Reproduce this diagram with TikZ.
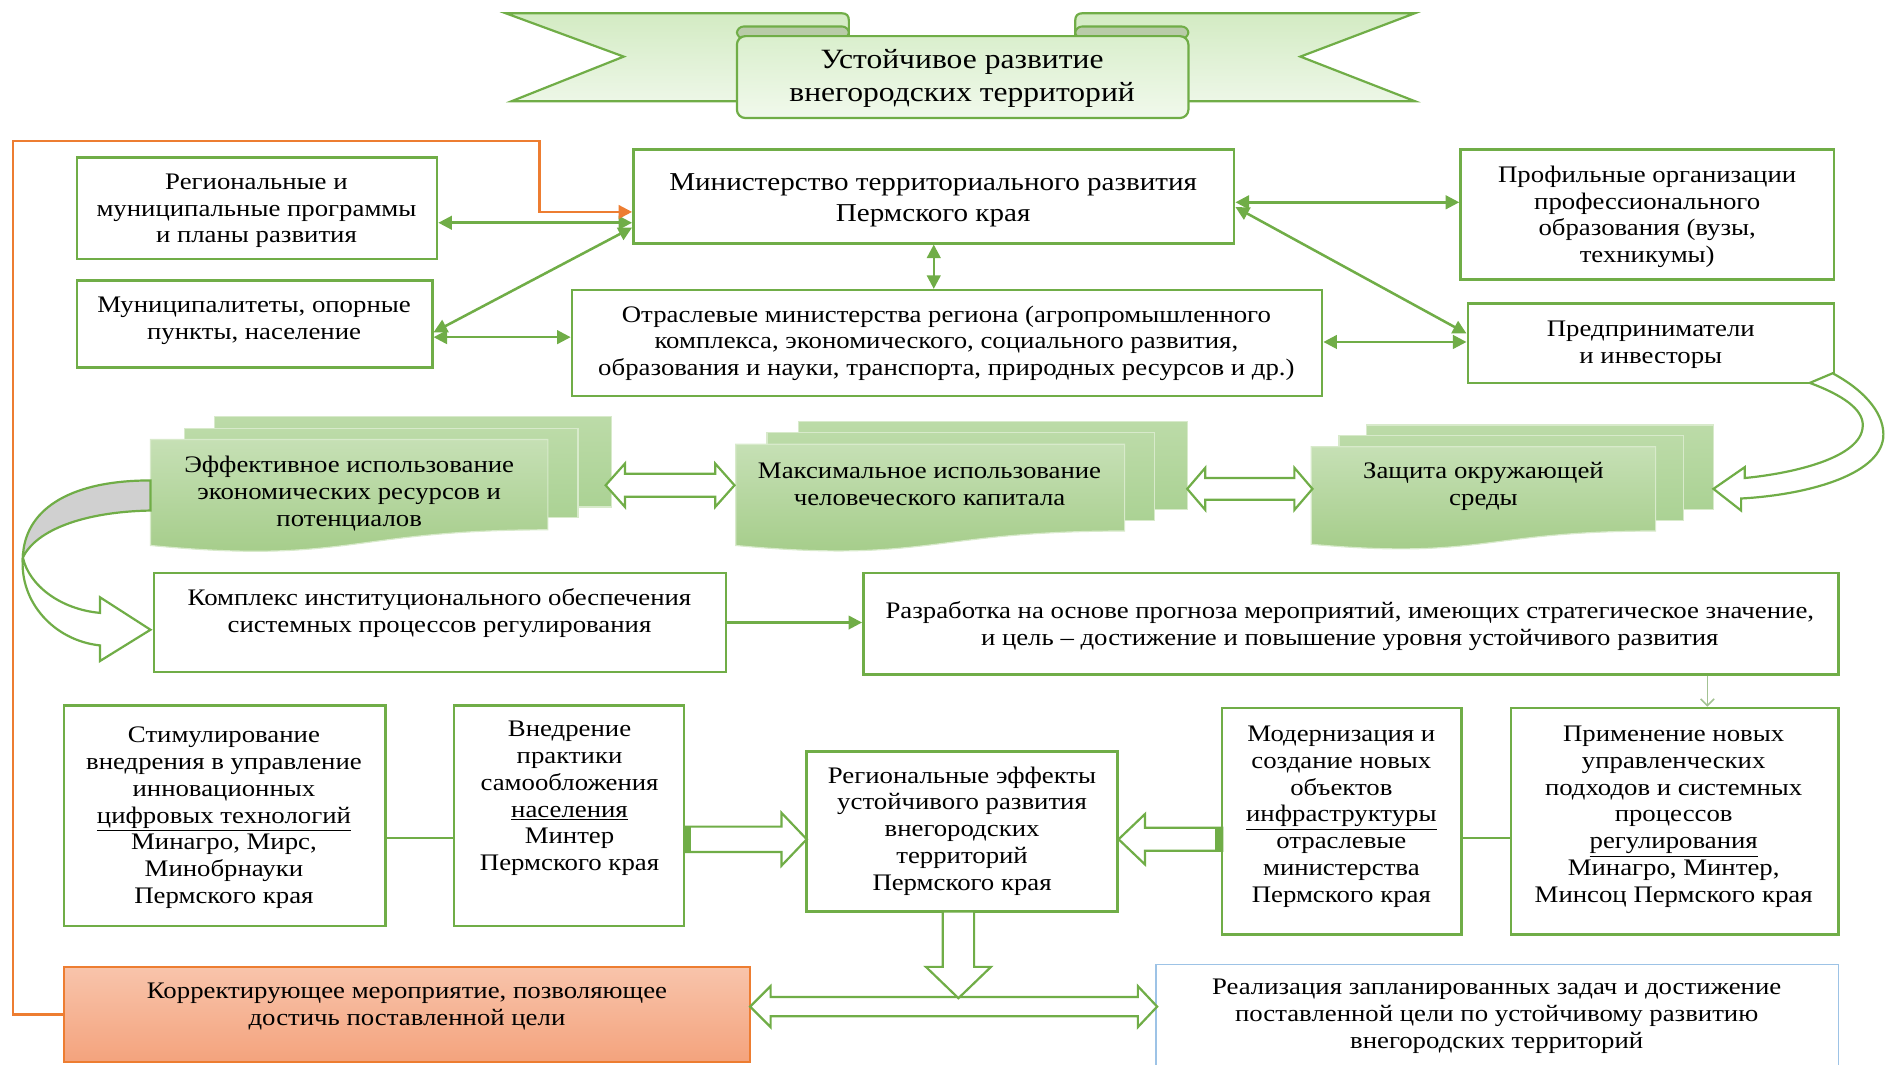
\documentclass[tikz,border=0pt]{standalone}
\usepackage{fontspec}
\setmainfont{Liberation Serif}[FakeStretch=1.13]
\usetikzlibrary{arrows.meta,fit,calc}
\definecolor{gr}{HTML}{70AD47}
\definecolor{orn}{HTML}{ED7D31}
\definecolor{lbl}{HTML}{9DC3E6}
\definecolor{thn}{HTML}{A3C293}
\definecolor{bnT}{HTML}{D3EBC3}
\definecolor{bnB}{HTML}{EDF7E7}
\definecolor{ctT}{HTML}{DAEFCD}
\definecolor{ctB}{HTML}{F1F9EC}
\definecolor{fld}{HTML}{B9CBA9}
\definecolor{dfT}{HTML}{C6E0B5}
\definecolor{dfB}{HTML}{A2CB86}
\definecolor{dbT}{HTML}{BCDBA8}
\definecolor{dbB}{HTML}{ABD294}
\definecolor{dedge}{HTML}{D8EACB}
\definecolor{krT}{HTML}{F8C4AB}
\definecolor{krB}{HTML}{F4A37D}
\definecolor{gry}{HTML}{D0D0D0}
\begin{document}
\begin{tikzpicture}[x=0.025cm,y=-0.025cm,
  gbox/.style={draw=gr,line width=1.5pt,inner sep=0pt,fill=white},
  txt/.style={align=center,inner sep=0pt,yshift=-1.5pt,font=\fontsize{14}{15.8}\selectfont},
  garr/.style={draw=gr,line width=1.5pt,{Triangle[length=8pt,width=8pt]}-{Triangle[length=8pt,width=8pt]}},
  sarr/.style={draw=gr,line width=1.5pt,-{Triangle[length=8pt,width=8pt]}},
  hol/.style={draw=gr,line width=1.3pt,fill=white,line join=miter},
  docb/.style={top color=dbT,bottom color=dbB,draw=dedge,line width=0.7pt},
  docf/.style={top color=dfT,bottom color=dfB,draw=dedge,line width=0.7pt},
  bann/.style={draw=gr,line width=1.3pt,top color=bnT,bottom color=bnB}]
\useasboundingbox (0,0) rectangle (1568,884);

% ---------- banner ----------
\path[bann] (420,11) -- (699,11) .. controls (703,11) and (705,13) .. (705,17) -- (705,84) -- (425,84) -- (518,47) -- cycle;
\path[bann] (1175,11) -- (899,11) .. controls (895,11) and (893,13) .. (893,17) -- (893,84) -- (1175,84) -- (1080,47) -- cycle;
\path[draw=gr,line width=1.2pt,fill=fld,rounded corners=4pt] (612,22) rectangle (705,32);
\path[draw=gr,line width=1.2pt,fill=fld,rounded corners=4pt] (893,22) rectangle (987,32);
\path[draw=gr,line width=1.3pt,top color=ctT,bottom color=ctB,rounded corners=5pt] (612,30) rectangle (987,98);
\node[txt,yshift=-0.7pt,font=\fontsize{16.5}{19.5}\selectfont] (ttl) at (799,62) {Устойчивое развитие\\внегородских территорий};

% ---------- boxes ----------
\node[gbox,fit={(64,131) (363,215)}] (reg) {};
\node[gbox,fit={(64,233) (359,305)}] (mun) {};
\node[gbox,fit={(526,124) (1025,202)}] (min) {};
\node[gbox,fit={(475,241) (1098,329)}] (otr) {};
\node[gbox,fit={(1213,124) (1523,232)}] (prof) {};
\node[gbox,fit={(1219,252) (1523,318)}] (pred) {};
\node[gbox,fit={(128,476) (603,558)}] (kom) {};
\node[gbox,fit={(717,476) (1527,560)}] (raz) {};
\node[gbox,fit={(53,586) (320,769)}] (stim) {};
\node[gbox,fit={(377,586) (568,769)}] (vned) {};
\node[gbox,fit={(670,624) (928,757)}] (reff) {};
\node[gbox,fit={(1015,588) (1214,776)}] (modr) {};
\node[gbox,fit={(1255,588) (1527,776)}] (prim) {};
\node[draw=orn,line width=1.2pt,inner sep=0pt,top color=krT,bottom color=krB,fit={(53,803) (623,882)}] (korr) {};
\node[draw=lbl,line width=0.8pt,inner sep=0pt,fit={(960,801) (1527,900)}] (real) {};

% ---------- texts ----------
\node[txt] (reg-t) at (213,173) {Региональные и\\муниципальные программы\\и планы развития};
\node[txt] (mun-t) at (211,264) {Муниципалитеты, опорные\\пункты, население};
\node[txt,font=\fontsize{15.2}{18.5}\selectfont] (min-t) at (775,164) {Министерство территориального развития\\Пермского края};
\node[txt] (otr-t) at (786,283) {Отраслевые министерства региона (агропромышленного\\комплекса, экономического, социального развития,\\образования и науки, транспорта, природных ресурсов и др.)};
\node[txt] (prof-t) at (1368,178) {Профильные организации\\профессионального\\образования (вузы,\\техникумы)};
\node[txt] (pred-t) at (1371,284) {Предприниматели\\и инвесторы};
\node[txt] (kom-t) at (365,507) {Комплекс институционального обеспечения\\системных процессов регулирования};
\node[txt] (raz-t) at (1121,518) {Разработка на основе прогноза мероприятий, имеющих стратегическое значение,\\и цель – достижение и повышение уровня устойчивого развития};
\node[txt] (stim-t) at (186,677) {Стимулирование\\внедрения в управление\\инновационных\\\underline{цифровых технологий}\\Минагро, Мирс,\\Минобрнауки\\Пермского края};
\node[txt] (vned-t) at (473,661) {Внедрение\\практики\\самообложения\\\underline{населения}\\Минтер\\Пермского края};
\node[txt] (reff-t) at (799,688) {Региональные эффекты\\устойчивого развития\\внегородских\\территорий\\Пермского края};
\node[txt] (modr-t) at (1114,676) {Модернизация и\\создание новых\\объектов\\\underline{инфраструктуры}\\отраслевые\\министерства\\Пермского края};
\node[txt] (prim-t) at (1390,676) {Применение новых\\управленческих\\подходов и системных\\процессов\\\underline{регулирования}\\Минагро, Минтер,\\Минсоц Пермского края};
\node[txt] (korr-t) at (338,834) {Корректирующее мероприятие, позволяющее\\достичь поставленной цели};
\node[txt] (real-t) at (1243,842) {Реализация запланированных задач и достижение\\поставленной цели по устойчивому развитию\\внегородских территорий};

% ---------- stacked documents ----------
\path[docb] (178,346) rectangle (508,421);
\path[docb] (153,356) rectangle (480,430);
\path[docf] (125,365) -- (455,365) -- (455,440) .. controls (290,440) and (290,469) .. (125,453) -- cycle;
\node[txt] (eff-t) at (290,408) {Эффективное использование\\экономических ресурсов и\\потенциалов};

\path[docb] (663,350) rectangle (986,423);
\path[docb] (637,359) rectangle (959,432);
\path[docf] (611,369) -- (934,369) -- (934,441) .. controls (772,441) and (772,468) .. (611,453) -- cycle;
\node[txt] (max-t) at (772,400) {Максимальное использование\\человеческого капитала};

\path[docb] (1135,353) rectangle (1423,423);
\path[docb] (1112,362) rectangle (1398,432);
\path[docf] (1089,371) -- (1375,371) -- (1375,441) .. controls (1232,441) and (1232,465) .. (1089,452) -- cycle;
\node[txt] (zas-t) at (1232,402) {Защита окружающей\\среды};

% ---------- hollow double arrows between documents ----------
\path[hol] (503,403) -- (519,385) -- (519,393.5) -- (594,393.5) -- (594,385) -- (610,403) -- (594,421) -- (594,412.5) -- (519,412.5) -- (519,421) -- cycle;
\path[hol] (986,406) -- (1001,388.5) -- (1001,397) -- (1075,397) -- (1075,388.5) -- (1090,406) -- (1075,423.5) -- (1075,415) -- (1001,415) -- (1001,423.5) -- cycle;

% ---------- curved arrow right ----------
\path[hol] (1522,310) .. controls (1550,325) and (1566,345) .. (1564,364) .. controls (1560,395) and (1500,411) .. (1446,414) -- (1446,424) -- (1423,406) -- (1449,388) -- (1449,397) .. controls (1490,393) and (1546,380) .. (1547,354) .. controls (1548,340) and (1530,328) .. (1503,318) -- cycle;

% ---------- curved arrow left ----------
\path[draw=gr,line width=1.3pt,fill=gry] (125,399) .. controls (55,399) and (20,425) .. (19,463) .. controls (30,440) and (70,425) .. (125,424) -- cycle;
\path[hol] (19,463) .. controls (24,486) and (50,506) .. (83,509) -- (83,496) -- (125,523) -- (83,549) -- (83,536) .. controls (45,532) and (16,500) .. (19,463) -- cycle;

% ---------- green connectors ----------
\coordinate (h1) at (0,185);
\coordinate (h2) at (0,276);
\coordinate (h3) at (0,189);
\coordinate (h4) at (0,280);
\coordinate (h5) at (0,168);
\coordinate (h6) at (0,172);
\coordinate (h7) at (0,277);
\coordinate (h8) at (0,284);
\draw[garr] (h1 -| reg.east) -- (h1 -| min.west);
\draw[garr] (h2 -| mun.east) -- (h3 -| min.west);
\draw[garr] (h4 -| mun.east) -- (h4 -| otr.west);
\draw[garr] (min.south) -- (min.south |- otr.north);
\draw[garr] (h5 -| min.east) -- (h5 -| prof.west);
\draw[garr] (h6 -| min.east) -- (h7 -| pred.west);
\draw[garr] (h8 -| otr.east) -- (h8 -| pred.west);
\draw[sarr] (kom.east) -- (kom.east -| raz.west);
\coordinate (v1) at (1418,0);
\draw[draw=thn,line width=0.9pt,-{Straight Barb[length=4pt,width=8pt]}] (v1 |- raz.south) -- (v1 |- prim.north);
\coordinate (h9) at (0,696);
\draw[draw=gr,line width=1.5pt] (h9 -| stim.east) -- (h9 -| vned.west);
\draw[draw=gr,line width=1.5pt] (h9 -| modr.east) -- (h9 -| prim.west);

% ---------- orange feedback line ----------
\coordinate (o1) at (11,0);
\coordinate (o2) at (448,117);
\coordinate (o3) at (0,176);
\draw[draw=orn,line width=1.4pt,-{Triangle[length=8pt,width=8pt]}] (korr.west) -| (o1 |- o2) -- (o2) |- (o3 -| min.west);

% ---------- hollow block arrows bottom ----------
\path[hol] (569,686.5) -- (649,686.5) -- (649,675) -- (670,697) -- (649,719) -- (649,707.5) -- (569,707.5) -- cycle;
\fill[gr] (568,686) rectangle (574,708);
\path[hol] (1015,687.5) -- (951,687.5) -- (951,676) -- (929,697) -- (951,718) -- (951,706.5) -- (1015,706.5) -- cycle;
\fill[gr] (1009,687) rectangle (1015,707);
\path[hol] (623,836) -- (640,819) -- (640,828) -- (945,828) -- (945,819) -- (961,836) -- (945,853) -- (945,844) -- (640,844) -- (640,853) -- cycle;
\path[hol] (783,757) -- (809,757) -- (809,803) -- (823,803) -- (796,829) -- (769,803) -- (783,803) -- cycle;
\end{tikzpicture}
\end{document}
